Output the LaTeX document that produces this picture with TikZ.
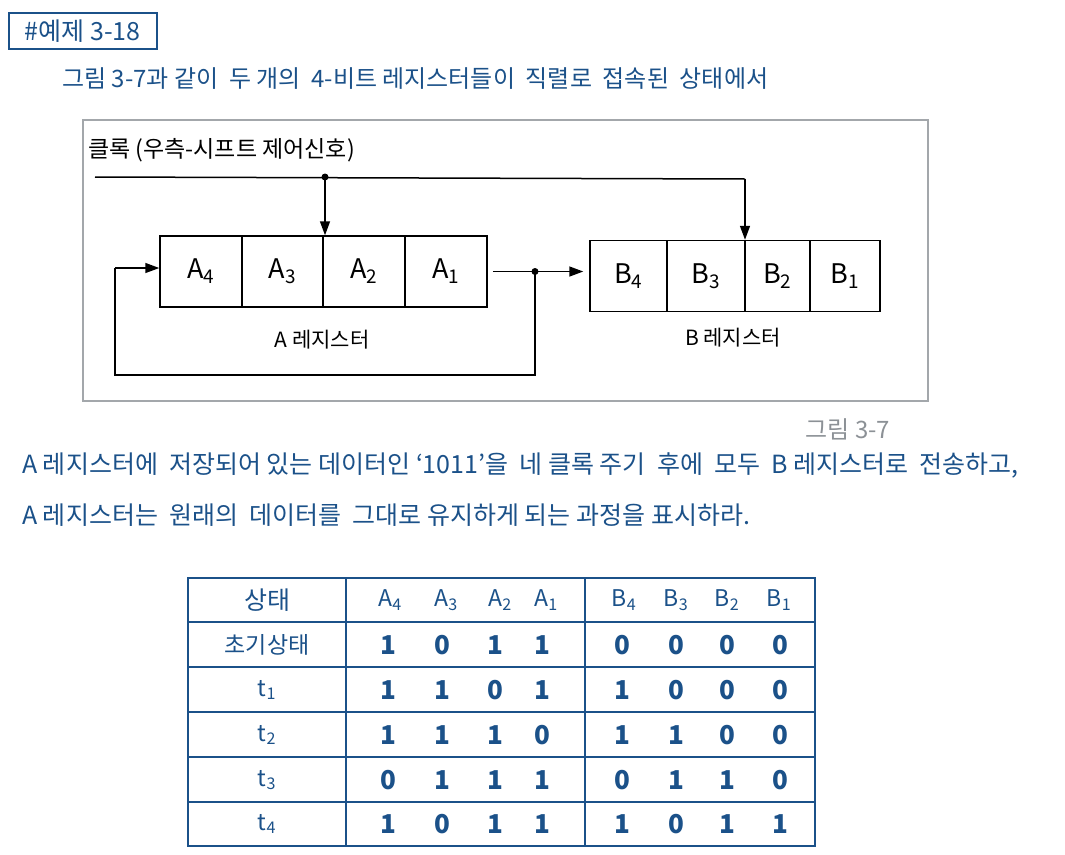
\documentclass[tikz,border=0pt]{standalone}
\usepackage{fontspec}
\setmainfont{Noto Sans CJK KR}
\usetikzlibrary{arrows.meta,calc}
\definecolor{pen}{HTML}{1B5189}
\definecolor{framegray}{HTML}{A3A7AB}
\definecolor{notegray}{HTML}{8C9196}
\begin{document}
\begin{tikzpicture}[x=1pt,y=-1pt,
  txt/.style={text=pen,inner sep=0pt,font=\fontsize{24}{28}\selectfont},
  cell/.style={draw=black,line width=1.5pt,minimum height=71pt,inner sep=0pt,font=\fontsize{27}{30}\selectfont},
  wire/.style={draw=black,line width=1.5pt},
  arr/.style={wire,-{Triangle[length=14pt,width=10pt]}},
  tline/.style={draw=pen,line width=1.8pt},
  tval/.style={text=pen,inner sep=0pt,font=\fontsize{26}{30}\selectfont\bfseries},
  thead/.style={text=pen,inner sep=0pt,font=\fontsize{23}{27}\selectfont}]
\useasboundingbox (0,0) rectangle (1065,854);

% title box
\node[txt,draw=pen,line width=1.6pt,minimum width=148pt,minimum height=36pt,anchor=north west,font=\fontsize{25}{28}\selectfont] (title) at (8,12) {\#예제 3-18};
\node[txt,anchor=west] (intro) at (62,79) {그림 3-7과 같이 \ 두 개의 \ 4-비트 레지스터들이 \ 직렬로 \ 접속된 \ 상태에서};

% figure frame
\draw[draw=framegray,line width=2pt] (83,120) rectangle (928,401);
\node[inner sep=0pt,anchor=west,font=\fontsize{23}{26}\selectfont] (clk) at (88,150) {클록 (우측-시프트 제어신호)};

% A register
\node[cell,minimum width=82pt] (a4) at (201,271.5) {A\textsubscript{4}};
\node[cell,minimum width=81pt] (a3) at (282.5,271.5) {A\textsubscript{3}};
\node[cell,minimum width=82pt] (a2) at (364,271.5) {A\textsubscript{2}};
\node[cell,minimum width=82pt] (a1) at (446,271.5) {A\textsubscript{1}};
% B register
\node[cell,minimum width=77pt] (b4) at (628.5,276) {B\textsubscript{4}};
\node[cell,minimum width=78pt] (b3) at (706,276) {B\textsubscript{3}};
\node[cell,minimum width=65pt] (b2) at (777.5,276) {B\textsubscript{2}};
\node[cell,minimum width=70pt] (b1) at (845,276) {B\textsubscript{1}};

\node[inner sep=0pt,font=\fontsize{21}{24}\selectfont] (alabel) at (322,340) {A 레지스터};
\node[inner sep=0pt,font=\fontsize{21}{24}\selectfont] (blabel) at (733,338) {B 레지스터};

% clock line
\coordinate (cs) at (95,177);
\coordinate (ce) at (745,179);
\coordinate (cdot) at (325,177);
\draw[wire] (cs) -- (ce);
\fill (cdot) circle (3.5pt);
\draw[arr] (cdot) -- (cdot |- a2.north);
\draw[arr] (ce) -- (ce |- b2.north);

% serial connection
\coordinate (sdot) at (535,271.5);
\coordinate (fb1) at (535,375);
\coordinate (fb2) at (115,375);
\coordinate (fb3) at (115,268);
\draw[arr] ($(a1.east)+(5,0)$) -- ($(b4.west)+(-6,-4.5)$);
\fill (sdot) circle (3.5pt);
\draw[wire] (sdot) -- (fb1) -- (fb2) -- (fb3);
\draw[arr] (fb3) -- (fb3 -| a4.west);

\node[text=notegray,inner sep=0pt,font=\fontsize{24}{28}\selectfont] (fig) at (848,429) {그림 3-7};

% problem text
\node[txt,anchor=west,font=\fontsize{25}{29}\selectfont] (p1) at (22,465) {A 레지스터에 \ 저장되어 있는 데이터인 `1011'을 \ 네 클록 주기 \ 후에 \ 모두 \ B 레지스터로 \ 전송하고,};
\node[txt,anchor=west,font=\fontsize{25}{29}\selectfont] (p2) at (22,515) {A 레지스터는 \ 원래의 \ 데이터를 \ 그대로 유지하게 되는 과정을 표시하라.};

% table
\draw[tline] (188,578) rectangle (815,846);
\foreach \y in {622,667,712,757,802} \draw[tline] (188,\y) -- (815,\y);
\foreach \x in {346,585} \draw[tline] (\x,578) -- (\x,846);

\node[thead,font=\fontsize{25}{28}\selectfont] (h0) at (267,600) {상태};
\node[thead] (ha4) at (390,600) {A\textsubscript{4}};
\node[thead] (ha3) at (446,600) {A\textsubscript{3}};
\node[thead] (ha2) at (500,600) {A\textsubscript{2}};
\node[thead] (ha1) at (546,600) {A\textsubscript{1}};
\node[thead] (hb4) at (624,600) {B\textsubscript{4}};
\node[thead] (hb3) at (676,600) {B\textsubscript{3}};
\node[thead] (hb2) at (727,600) {B\textsubscript{2}};
\node[thead] (hb1) at (779,600) {B\textsubscript{1}};

\foreach \name/\lab/\y in {r0/초기상태/645,r1/t\textsubscript{1}/690,r2/t\textsubscript{2}/735,r3/t\textsubscript{3}/780,r4/t\textsubscript{4}/824}
  \node[thead] (\name) at (267,\y) {\lab};

\foreach \row/\y/\vals in {0/645/{1,0,1,1,0,0,0,0},1/690/{1,1,0,1,1,0,0,0},2/735/{1,1,1,0,1,1,0,0},3/780/{0,1,1,1,0,1,1,0},4/824/{1,0,1,1,1,0,1,1}}{
  \foreach \v [count=\i] in \vals {
    \pgfmathsetmacro{\xx}{{0,388,442,495,542,622,676,727,780}[\i]}
    \node[tval] (v\row-\i) at (\xx,\y) {\v};
  }
}
\end{tikzpicture}
\end{document}
